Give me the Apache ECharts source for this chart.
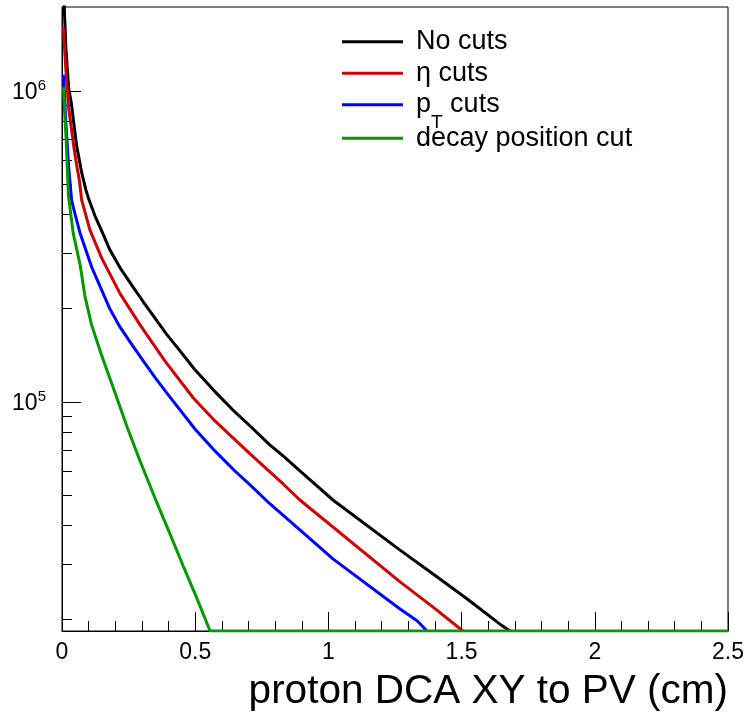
<!DOCTYPE html>
<html>
<head>
<meta charset="utf-8">
<script src="https://cdn.jsdelivr.net/npm/echarts@6/dist/echarts.min.js"></script>
<style>
html, body { margin: 0; padding: 0; background: #ffffff; }
#chart { width: 746px; height: 714px; }
</style>
</head>
<body>
<div id="chart"></div>
<script>
// ---------- data ----------
const seriesNames = ['No cuts', 'η cuts', 'p_T cuts', 'decay position cut'];

const xNoCuts = [0.005, 0.015, 0.025, 0.035, 0.045, 0.055, 0.065, 0.075, 0.09, 0.10, 0.124, 0.149, 0.180, 0.218, 0.267, 0.305, 0.349, 0.393, 0.443, 0.499, 0.574, 0.649, 0.706, 0.781, 0.830, 0.893, 0.957, 1.017, 1.269, 1.393, 1.520, 1.644, 1.682];
const yNoCuts = [2.2e6, 1.355e6, 1.022e6, 9.15e5, 7.78e5, 6.66e5, 6.00e5, 5.41e5, 4.80e5, 4.50e5, 3.96e5, 3.55e5, 3.08e5, 2.70e5, 2.34e5, 2.10e5, 1.86e5, 1.65e5, 1.46e5, 1.27e5, 1.08e5, 9.29e4, 8.37e4, 7.27e4, 6.71e4, 6.00e4, 5.37e4, 4.84e4, 3.34e4, 2.80e4, 2.33e4, 1.93e4, 1.835e4];

const xEtaCuts = [0.005, 0.015, 0.025, 0.035, 0.045, 0.055, 0.065, 0.074, 0.105, 0.149, 0.218, 0.293, 0.386, 0.493, 0.574, 0.706, 0.830, 0.893, 1.269, 1.393, 1.505];
const yEtaCuts = [1.606e6, 1.151e6, 8.82e5, 7.60e5, 6.56e5, 5.78e5, 5.17e5, 4.46e5, 3.57e5, 2.90e5, 2.23e5, 1.77e5, 1.355e5, 1.03e5, 8.69e4, 6.81e4, 5.45e4, 4.84e4, 2.64e4, 2.19e4, 1.835e4];

const xPtCuts = [0.005, 0.015, 0.025, 0.036, 0.05, 0.068, 0.111, 0.149, 0.180, 0.218, 0.267, 0.305, 0.349, 0.393, 0.443, 0.499, 0.574, 0.649, 0.706, 0.781, 0.893, 1.017, 1.269, 1.333, 1.370];
const yPtCuts = [1.126e6, 7.78e5, 5.70e5, 4.46e5, 3.99e5, 3.49e5, 2.72e5, 2.29e5, 1.99e5, 1.74e5, 1.51e5, 1.355e5, 1.20e5, 1.07e5, 9.43e4, 8.19e4, 6.96e4, 6.00e4, 5.41e4, 4.70e4, 3.88e4, 3.13e4, 2.16e4, 1.98e4, 1.835e4];

const xDecayCut = [0.005, 0.015, 0.024, 0.042, 0.068, 0.086, 0.111, 0.149, 0.199, 0.243, 0.293, 0.349, 0.399, 0.455, 0.506, 0.556, 2.5];
const yDecayCut = [1.030e6, 7.11e5, 4.63e5, 3.49e5, 2.76e5, 2.19e5, 1.77e5, 1.41e5, 1.07e5, 8.37e4, 6.46e4, 4.91e4, 3.88e4, 2.97e4, 2.34e4, 1.835e4, 1.835e4];

const xMin = 0, xMax = 2.5, xInterval = 0.5;
const yMin = 18350, yMax = 1.862e6;
const yMajorTicks = [1e5, 1e6];
const yMinorTicks = [2e4, 3e4, 4e4, 5e4, 6e4, 7e4, 8e4, 9e4, 2e5, 3e5, 4e5, 5e5, 6e5, 7e5, 8e5, 9e5];
const xTitle = 'proton DCA XY to PV (cm)';

// ---------- styling ----------
const FONT = "'Liberation Sans', Arial, Helvetica, sans-serif";
const colors = ['#000000', '#cc0000', '#0000ff', '#009900'];
const legendCenters = [41.7, 73.3, 107.3, 138.3];

function zip(xs, ys) { return xs.map((x, i) => [x, ys[i]]); }
const seriesData = [zip(xNoCuts, yNoCuts), zip(xEtaCuts, yEtaCuts), zip(xPtCuts, yPtCuts), zip(xDecayCut, yDecayCut)];

const chart = echarts.init(document.getElementById('chart'), null, { renderer: 'canvas' });

const legends = seriesNames.map((name, i) => {
  const isPt = name === 'p_T cuts';
  return {
    data: [name],
    left: 342,
    top: legendCenters[i] - 16,
    orient: 'vertical',
    icon: 'rect',
    itemWidth: 61,
    itemHeight: 3,
    padding: 0,
    selectedMode: false,
    formatter: isPt ? '{p|p}{t|T}{p| cuts}' : name,
    textStyle: {
      fontFamily: FONT, fontSize: 27, color: '#000', lineHeight: 32,
      padding: [0, 0, 0, 8],
      rich: {
        p: { fontFamily: FONT, fontSize: 27, height: 27, lineHeight: 27, color: '#000', verticalAlign: 'middle' },
        t: { fontFamily: FONT, fontSize: 19, height: 19, lineHeight: 19, color: '#000', verticalAlign: 'top', padding: [22, 0, 0, 0] }
      }
    }
  };
});

const option = {
  animation: false,
  backgroundColor: '#ffffff',
  grid: {
    left: 62, right: 18, top: 7, bottom: 83,
    containLabel: false, outerBoundsMode: 'none',
    show: true, borderColor: '#000', borderWidth: 1, backgroundColor: 'transparent'
  },
  legend: legends,
  xAxis: {
    type: 'value', min: xMin, max: xMax, interval: xInterval,
    name: xTitle, nameLocation: 'end', nameGap: 0, nameMoveOverlap: false,
    nameTextStyle: { fontFamily: FONT, fontSize: 40.5, color: '#000', align: 'right', verticalAlign: 'top', lineHeight: 40, padding: [41, 0, 0, 0] },
    axisLine: { show: true, lineStyle: { color: '#000', width: 1 } },
    axisTick: { show: true, inside: true, length: 19, lineStyle: { color: '#000', width: 1 } },
    minorTick: { show: true, splitNumber: 5, length: 10, lineStyle: { color: '#000', width: 1 } },
    axisLabel: { fontFamily: FONT, fontSize: 23, color: '#000', margin: 10 },
    splitLine: { show: false }
  },
  yAxis: [
    {
      type: 'log', logBase: 10, min: yMin, max: yMax,
      axisLine: { show: true, lineStyle: { color: '#000', width: 1 } },
      axisTick: { show: true, inside: true, length: 19, customValues: yMajorTicks, lineStyle: { color: '#000', width: 1 } },
      minorTick: { show: false },
      axisLabel: {
        customValues: yMajorTicks, margin: 16,
        formatter: v => '{a|10}{b|' + Math.round(Math.log10(v)) + '}',
        rich: {
          a: { fontFamily: FONT, fontSize: 23, height: 23, lineHeight: 26, color: '#000', verticalAlign: 'bottom' },
          b: { fontFamily: FONT, fontSize: 15, height: 15, lineHeight: 15, color: '#000', verticalAlign: 'top' }
        }
      },
      splitLine: { show: false }
    },
    {
      type: 'log', logBase: 10, min: yMin, max: yMax, position: 'left',
      axisLine: { show: false },
      axisTick: { show: true, inside: true, length: 10, customValues: yMinorTicks, lineStyle: { color: '#000', width: 1 } },
      axisLabel: { show: false },
      splitLine: { show: false }
    }
  ],
  series: seriesNames.map((name, i) => ({
    name: name,
    type: 'line',
    data: seriesData[i],
    yAxisIndex: 0,
    showSymbol: false,
    symbol: 'none',
    clip: true,
    color: colors[i],
    lineStyle: { color: colors[i], width: 3 },
    z: 2 + i
  }))
};

chart.setOption(option);
</script>
</body>
</html>
